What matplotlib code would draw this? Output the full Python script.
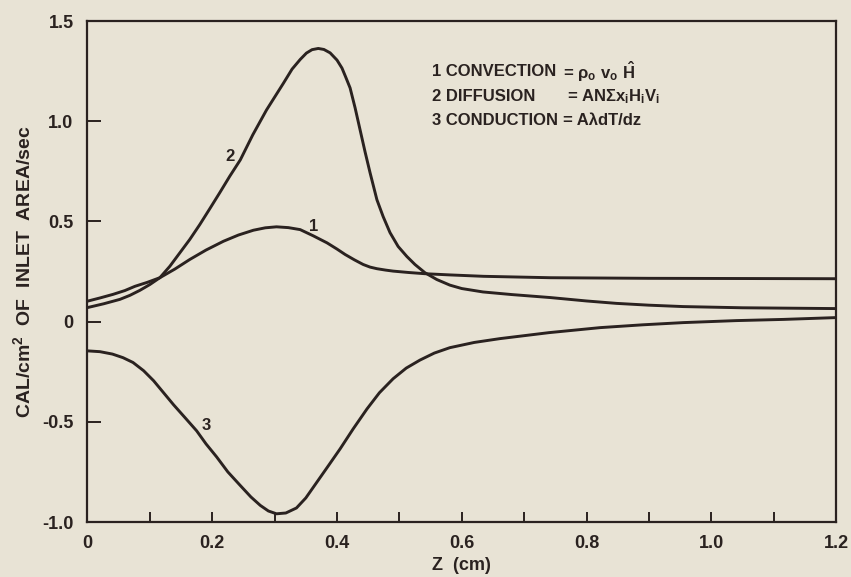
import numpy as np
import matplotlib
matplotlib.use("Agg")
import matplotlib.pyplot as plt
from matplotlib.ticker import FixedLocator, MultipleLocator

# curve 1: convection
z_conv = [0, 0.020, 0.041, 0.060, 0.076, 0.096, 0.116, 0.140, 0.164, 0.190,
          0.218, 0.242, 0.266, 0.285, 0.303, 0.322, 0.341, 0.362, 0.384, 0.400,
          0.413, 0.428, 0.442, 0.453, 0.464, 0.478, 0.490, 0.515, 0.541, 0.581,
          0.635, 0.742, 0.900, 1.2]
q_conv = [0.102, 0.118, 0.136, 0.155, 0.176, 0.196, 0.219, 0.262, 0.310, 0.357,
          0.401, 0.432, 0.456, 0.468, 0.473, 0.469, 0.459, 0.428, 0.393, 0.362,
          0.335, 0.308, 0.285, 0.272, 0.264, 0.257, 0.252, 0.245, 0.239, 0.233,
          0.226, 0.219, 0.216, 0.214]

# curve 2: diffusion
z_diff = [0, 0.026, 0.052, 0.068, 0.084, 0.100, 0.116, 0.132, 0.148, 0.164,
          0.180, 0.196, 0.212, 0.228, 0.245, 0.265, 0.287, 0.314, 0.328, 0.341,
          0.351, 0.360, 0.370, 0.379, 0.389, 0.400, 0.408, 0.414, 0.421, 0.429,
          0.437, 0.445, 0.453, 0.464, 0.474, 0.485, 0.498, 0.512, 0.525, 0.541,
          0.560, 0.581, 0.600, 0.634, 0.680, 0.742, 0.800, 0.848, 0.900, 0.955,
          1.050, 1.2]
q_diff = [0.070, 0.089, 0.111, 0.131, 0.156, 0.185, 0.219, 0.276, 0.343, 0.410,
          0.484, 0.563, 0.643, 0.725, 0.807, 0.932, 1.056, 1.189, 1.260, 1.308,
          1.340, 1.357, 1.363, 1.358, 1.341, 1.305, 1.265, 1.220, 1.166, 1.067,
          0.957, 0.847, 0.743, 0.608, 0.524, 0.444, 0.375, 0.325, 0.285, 0.244,
          0.210, 0.182, 0.165, 0.148, 0.135, 0.120, 0.103, 0.091, 0.082, 0.075,
          0.069, 0.065]

# curve 3: conduction
z_cond = [0, 0.020, 0.040, 0.057, 0.073, 0.090, 0.106, 0.122, 0.138, 0.156,
          0.175, 0.190, 0.207, 0.225, 0.245, 0.262, 0.277, 0.290, 0.303, 0.318,
          0.335, 0.350, 0.368, 0.386, 0.405, 0.426, 0.448, 0.468, 0.490, 0.511,
          0.533, 0.556, 0.581, 0.620, 0.661, 0.740, 0.822, 0.890, 0.955, 1.040,
          1.116, 1.2]
q_cond = [-0.146, -0.150, -0.162, -0.180, -0.204, -0.245, -0.295, -0.355, -0.415, -0.478,
          -0.545, -0.610, -0.675, -0.750, -0.818, -0.875, -0.917, -0.945, -0.959, -0.955,
          -0.930, -0.880, -0.800, -0.720, -0.635, -0.535, -0.436, -0.355, -0.285, -0.232,
          -0.192, -0.157, -0.130, -0.104, -0.085, -0.055, -0.030, -0.016, -0.005, 0.005,
          0.011, 0.020]

x_ticks = [0, 0.2, 0.4, 0.6, 0.8, 1.0, 1.2]
x_labels = ["0", "0.2", "0.4", "0.6", "0.8", "1.0", "1.2"]
y_ticks = [-1.0, -0.5, 0, 0.5, 1.0, 1.5]
y_labels = ["-1.0", "-0.5", "0", "0.5", "1.0", "1.5"]

paper = "#e8e3d5"
ink = "#2a2220"

plt.rcParams["font.family"] = ["Liberation Sans", "DejaVu Sans"]
plt.rcParams["font.weight"] = "bold"
plt.rcParams["axes.labelweight"] = "bold"
plt.rcParams["mathtext.fontset"] = "custom"
plt.rcParams["mathtext.rm"] = "Liberation Sans:bold"
plt.rcParams["mathtext.it"] = "Liberation Sans:bold"
plt.rcParams["mathtext.bf"] = "Liberation Sans:bold"
plt.rcParams["mathtext.default"] = "rm"
plt.rcParams["axes.unicode_minus"] = False

fig = plt.figure(figsize=(8.51, 5.77), dpi=100, facecolor=paper)
ax = fig.add_axes([0.1028, 0.0953, 0.8796, 0.8683], facecolor=paper)

for z, q in [(z_conv, q_conv), (z_diff, q_diff), (z_cond, q_cond)]:
    ax.plot(z, q, color=ink, lw=2.1, solid_joinstyle="round", solid_capstyle="round")

ax.set_xlim(0, 1.2)
ax.set_ylim(-1.0, 1.5)

ax.xaxis.set_major_locator(FixedLocator(x_ticks))
ax.xaxis.set_minor_locator(MultipleLocator(0.1))
ax.set_xticklabels(x_labels)
ax.yaxis.set_major_locator(FixedLocator(y_ticks))
ax.set_yticklabels(y_labels)

ax.tick_params(axis="x", which="both", direction="in", length=7, width=1.4,
               color=ink, labelsize=13, labelcolor=ink, pad=9)
ax.tick_params(axis="y", direction="in", length=10, width=1.4,
               color=ink, labelsize=13, labelcolor=ink, pad=10)
for sp in ax.spines.values():
    sp.set_color(ink)
    sp.set_linewidth(1.6)

ax.set_xlabel("Z  (cm)", fontsize=13, color=ink, labelpad=4)
ax.set_ylabel("CAL/cm$^2$  OF  INLET  AREA/sec", fontsize=14, color=ink, labelpad=6)

# curve numbers
ax.text(0.362, 0.476, "1", fontsize=12, color=ink, ha="center", va="center")
ax.text(0.228, 0.824, "2", fontsize=12, color=ink, ha="center", va="center")
ax.text(0.190, -0.520, "3", fontsize=12, color=ink, ha="center", va="center")

# key
ax.text(0.552, 1.247, "1 CONVECTION", fontsize=12, color=ink, va="center")
ax.text(0.762, 1.247, r"= $\rho_o\ v_o\ \hat{H}$", fontsize=12, color=ink, va="center")
ax.text(0.552, 1.122, "2 DIFFUSION", fontsize=12, color=ink, va="center")
ax.text(0.768, 1.122, r"= AN$\Sigma$x$_i$H$_i$V$_i$", fontsize=12, color=ink, va="center")
ax.text(0.552, 1.006, "3 CONDUCTION", fontsize=12, color=ink, va="center")
ax.text(0.762, 1.006, "= AλdT/dz", fontsize=12, color=ink, va="center")

fig.savefig("out.png", dpi=100, facecolor=paper)
